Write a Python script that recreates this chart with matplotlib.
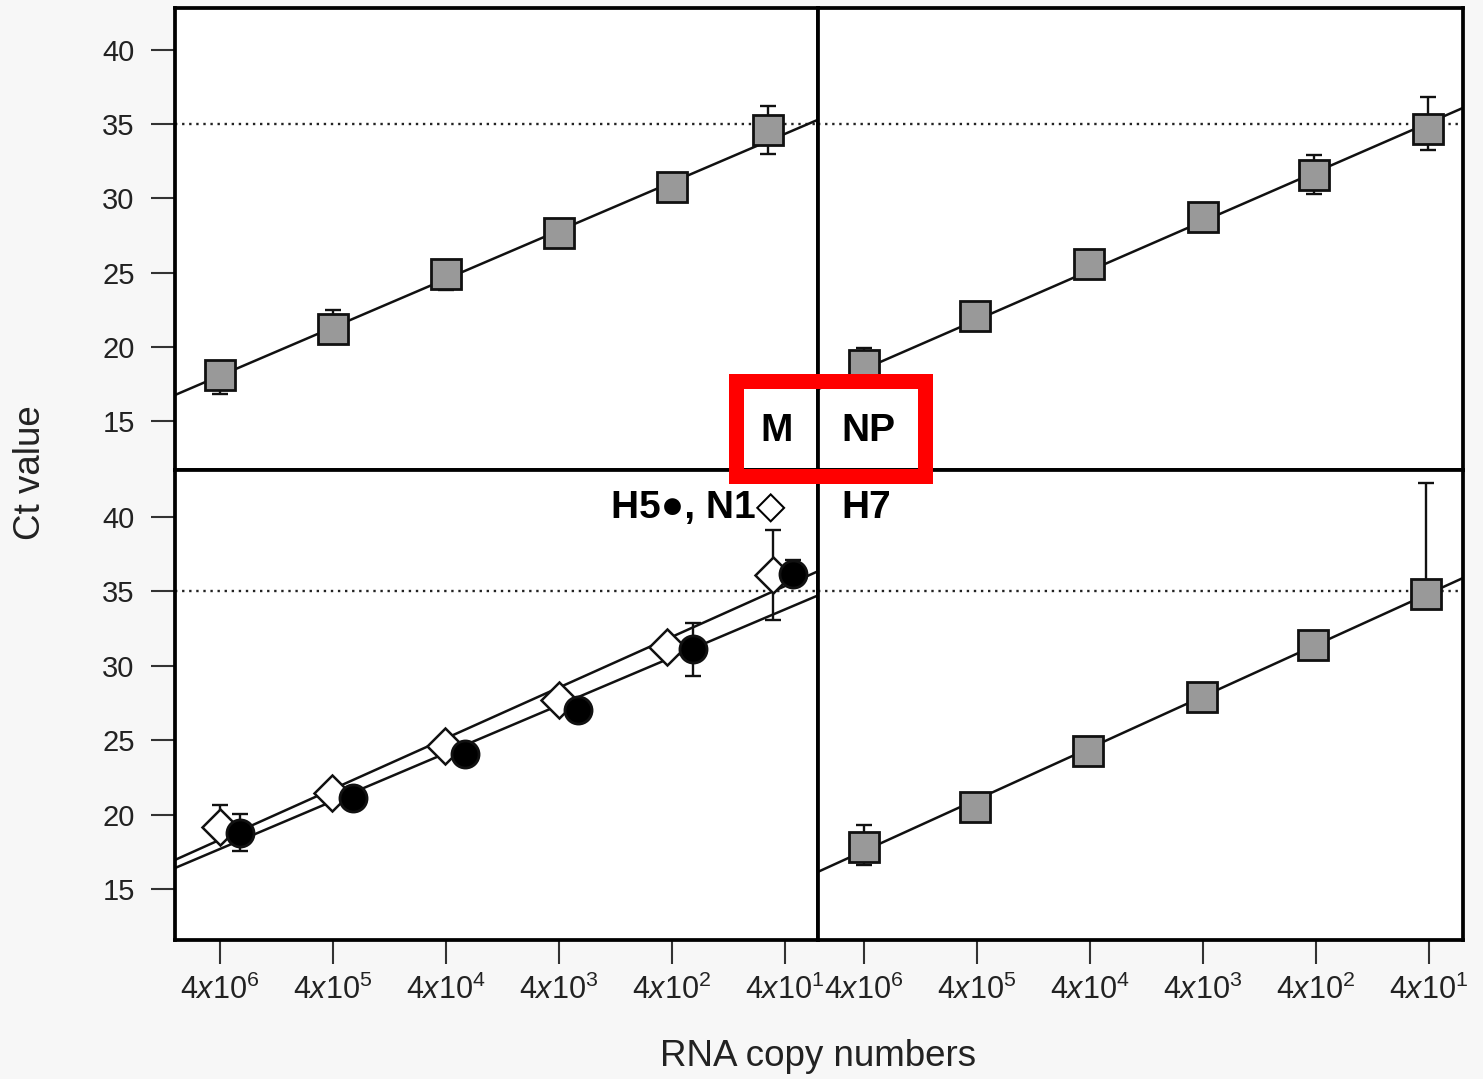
import numpy as np
import matplotlib
matplotlib.use("Agg")
import matplotlib.pyplot as plt
from matplotlib.patches import Rectangle

plt.rcParams['font.family'] = ['Liberation Sans', 'DejaVu Sans']
plt.rcParams['mathtext.fontset'] = 'custom'
plt.rcParams['mathtext.rm'] = 'Liberation Sans'
plt.rcParams['mathtext.it'] = 'Liberation Sans:italic'

# dilution steps (copies per reaction)
exponents = [6, 5, 4, 3, 2, 1]
tick_labels = [r'$4\mathit{x}10^{%d}$' % e for e in exponents]

# M gene
m_x = [0, 1, 2, 3, 4, 4.85]
m_ct = [18.1, 21.2, 24.9, 27.7, 30.8, 34.6]
m_lo = [1.3, 0.0, 1.1, 0.0, 0.0, 1.6]
m_hi = [0.0, 1.3, 0.0, 0.0, 0.0, 1.6]
m_fit = (3.26, 18.05)

# NP gene
np_x = [0, 0.98, 1.99, 3.0, 3.98, 4.99]
np_ct = [18.8, 22.1, 25.6, 28.75, 31.6, 34.65]
np_lo = [0.0, 0.0, 0.0, 0.0, 1.3, 1.4]
np_hi = [1.1, 0.0, 0.0, 0.0, 1.3, 2.2]
np_fit = (3.32, 18.5)

# H5 (filled circles)
h5_x = [0.18, 1.18, 2.17, 3.17, 4.19, 5.07]
h5_ct = [18.75, 21.1, 24.05, 27.0, 31.1, 36.2]
h5_lo = [1.2, 0.0, 0.0, 0.0, 1.8, 0.0]
h5_hi = [1.3, 0.0, 0.0, 0.0, 1.8, 0.9]
h5_fit = (3.22, 17.69)

# N1 (open diamonds)
n1_x = [0, 0.99, 1.99, 3.0, 3.96, 4.89]
n1_ct = [19.15, 21.45, 24.6, 27.7, 31.25, 36.1]
n1_lo = [0.0, 0.0, 0.0, 0.0, 0.0, 3.0]
n1_hi = [1.5, 0.0, 0.0, 0.0, 0.0, 3.0]
n1_fit = (3.41, 18.31)

# H7 gene
h7_x = [0, 0.98, 1.98, 2.99, 3.97, 4.97]
h7_ct = [17.8, 20.5, 24.25, 27.9, 31.4, 34.85]
h7_lo = [1.2, 0.0, 0.0, 0.0, 0.0, 0.0]
h7_hi = [1.5, 0.0, 0.0, 0.0, 0.0, 7.45]
h7_fit = (3.46, 17.56)

cutoff = 35

W, H = 1483, 1079
fig = plt.figure(figsize=(W / 100, H / 100), dpi=100)
fig.patch.set_facecolor('#f7f7f7')


def box(x0, y0, x1, y1):
    return [x0 / W, 1 - y1 / H, (x1 - x0) / W, (y1 - y0) / H]


ax_m = fig.add_axes(box(175, 8, 818, 470))
ax_np = fig.add_axes(box(818, 8, 1463, 470))
ax_h5 = fig.add_axes(box(175, 470, 818, 940))
ax_h7 = fig.add_axes(box(818, 470, 1463, 940))

for ax in [ax_m, ax_np, ax_h5, ax_h7]:
    ax.set_facecolor('white')
    for s in ax.spines.values():
        s.set_linewidth(2.7)
    ax.axhline(cutoff, color='#222222', lw=1.7, ls=(0, (1, 2.0)), zorder=1)
    ax.tick_params(length=17, width=1.5, color='#333333', labelsize=21,
                   labelcolor='#222222')

ax_m.set_xlim(-0.398, 5.292)
ax_h5.set_xlim(-0.398, 5.292)
ax_np.set_xlim(-0.407, 5.301)
ax_h7.set_xlim(-0.407, 5.301)
ax_m.set_ylim(11.70, 42.83)
ax_np.set_ylim(11.70, 42.83)
ax_h5.set_ylim(11.57, 43.16)
ax_h7.set_ylim(11.57, 43.16)

for ax in [ax_m, ax_h5]:
    ax.set_yticks([15, 20, 25, 30, 35, 40])
    ax.tick_params(axis='y', pad=12)
for ax in [ax_np, ax_h7]:
    ax.set_yticks([])
for ax in [ax_m, ax_np]:
    ax.set_xticks([])
for ax in [ax_h5, ax_h7]:
    ax.set_xticks(range(6))
    ax.set_xticklabels(tick_labels, fontsize=22)
    ax.tick_params(axis='x', pad=8)


def fit_line(ax, fit):
    lo, hi = ax.get_xlim()
    xs = np.array([lo, hi])
    ax.plot(xs, fit[1] + fit[0] * xs, color='#111111', lw=1.8, zorder=2,
            solid_capstyle='butt')


def series(ax, x, y, lo, hi, marker, ms, face, mew=2.0):
    ax.errorbar(x, y, yerr=[lo, hi], fmt='none', ecolor='#111111',
                elinewidth=1.7, capsize=6, capthick=1.7, zorder=3)
    ax.plot(x, y, ls='none', marker=marker, ms=ms, mfc=face, mec='#111111',
            mew=mew, zorder=4)


fit_line(ax_m, m_fit)
series(ax_m, m_x, m_ct, m_lo, m_hi, 's', 21, '#999999')

fit_line(ax_np, np_fit)
series(ax_np, np_x, np_ct, np_lo, np_hi, 's', 21, '#999999')

fit_line(ax_h5, n1_fit)
fit_line(ax_h5, h5_fit)
series(ax_h5, n1_x, n1_ct, n1_lo, n1_hi, 'D', 18, 'white', mew=1.8)
series(ax_h5, h5_x, h5_ct, h5_lo, h5_hi, 'o', 19.5, '#000000')

fit_line(ax_h7, h7_fit)
series(ax_h7, h7_x, h7_ct, h7_lo, h7_hi, 's', 21, '#999999')

# panel labels
def pt(x, y):
    return x / W, 1 - y / H


fig.text(*pt(777, 431), 'M', fontsize=28, fontweight='bold', ha='center', va='center')
fig.text(*pt(868, 431), 'NP', fontsize=28, fontweight='bold', ha='center', va='center')
fig.text(*pt(866, 508), 'H7', fontsize=28, fontweight='bold', ha='center', va='center')
fig.text(*pt(786, 508), 'H5\u25cf, N1\u25c7', fontsize=28, fontweight='bold',
         ha='right', va='center')

# highlight box
fig.patches.append(Rectangle(pt(735.5, 475.5), (924.5 - 735.5) / W,
                             (475.5 - 380.5) / H, transform=fig.transFigure,
                             fill=False, edgecolor='#ff0000', lw=10.8, zorder=10))

fig.text(*pt(30, 473), 'Ct value', fontsize=26.5, rotation=90, ha='center', va='center',
         color='#222222')
fig.text(*pt(818, 1057), 'RNA copy numbers', fontsize=26.5, ha='center', va='center',
         color='#222222')

fig.savefig('out.png', dpi=100, facecolor=fig.get_facecolor())
